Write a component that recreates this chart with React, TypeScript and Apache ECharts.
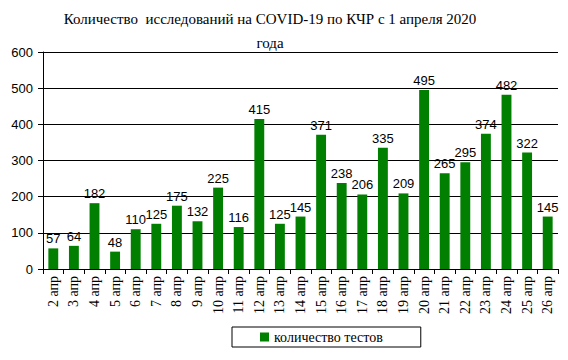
import React, { useEffect, useRef } from "react";
import * as echarts from "echarts";

const categories = [
  "2 апр", "3 апр", "4 апр", "5 апр", "6 апр", "7 апр", "8 апр", "9 апр", "10 апр",
  "11 апр", "12 апр", "13 апр", "14 апр", "15 апр", "16 апр", "17 апр", "18 апр",
  "19 апр", "20 апр", "21 апр", "22 апр", "23 апр", "24 апр", "25 апр", "26 апр",
];
const tests = [57, 64, 182, 48, 110, 125, 175, 132, 225, 116, 415, 125, 145, 371, 238, 206, 335, 209, 495, 265, 295, 374, 482, 322, 145];
const seriesName = "количество тестов";
const titleText = "Количество  исследований на COVID-19 по КЧР с 1 апреля 2020\nгода";

export default function App() {
  const ref = useRef<HTMLDivElement>(null);
  useEffect(() => {
    if (!ref.current) return;
    const chart = echarts.init(ref.current, undefined, { renderer: "svg" });
    const serif = "Liberation Serif";
    const sans = "Liberation Sans";
    chart.setOption({
      animation: false,
      backgroundColor: "#ffffff",
      title: {
        text: titleText,
        left: 265,
        textAlign: "center",
        top: 2,
        textStyle: {
          fontFamily: serif,
          fontSize: 15,
          fontWeight: "normal",
          color: "#000",
          lineHeight: 24,
        },
      },
      grid: { left: 43, right: 10, top: 52, bottom: 91, containLabel: false },
      legend: {
        show: true,
        top: 327,
        left: 232,
        data: [seriesName],
        itemWidth: 9,
        itemHeight: 9,
        itemGap: 5,
        borderColor: "#000",
        borderWidth: 1,
        padding: [3, 38, 3, 28],
        icon: "rect",
        textStyle: { fontFamily: serif, fontSize: 14, color: "#000" },
      },
      xAxis: {
        type: "category",
        data: categories,
        axisLine: { lineStyle: { color: "#000", width: 1 } },
        axisTick: { show: true, length: 5, lineStyle: { color: "#000" } },
        axisLabel: {
          rotate: 90,
          interval: 0,
          fontFamily: serif,
          fontSize: 14,
          color: "#000",
          margin: 7,
        },
      },
      yAxis: {
        type: "value",
        min: 0,
        max: 600,
        interval: 100,
        axisLine: { show: true, lineStyle: { color: "#000", width: 1 } },
        axisTick: { show: true, length: 5, lineStyle: { color: "#000" } },
        splitLine: { show: true, lineStyle: { color: "#000", width: 1 } },
        axisLabel: {
          fontFamily: sans,
          fontSize: 13,
          color: "#000",
          margin: 10,
        },
      },
      series: [
        {
          name: seriesName,
          type: "bar",
          data: tests,
          barWidth: "48%",
          itemStyle: { color: "#007f00" },
          label: {
            show: true,
            position: "top",
            distance: 3,
            fontFamily: sans,
            fontSize: 13,
            color: "#000",
          },
        },
      ],
    });
    return () => chart.dispose();
  }, []);
  return <div ref={ref} style={{ width: 568, height: 360, margin: -8 }} />;
}
